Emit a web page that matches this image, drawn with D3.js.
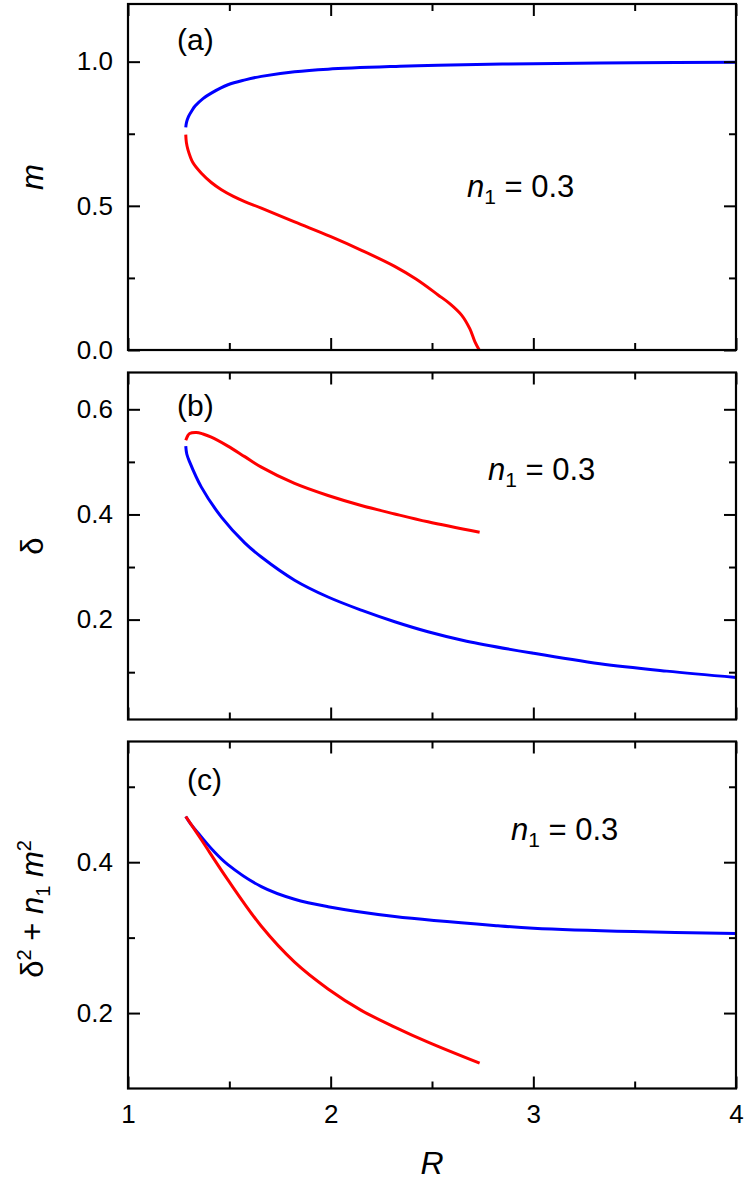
<!DOCTYPE html>
<html><head><meta charset="utf-8">
<script src="https://cdn.jsdelivr.net/npm/d3@7/dist/d3.min.js"></script>
<style>
body{margin:0;background:#fff}
svg text{font-family:"Liberation Sans",Arial,Helvetica,sans-serif;fill:#000}
</style>
</head><body>
<svg id="chart" width="747" height="1185"></svg>
<script>
// ---------- data ----------
const xMajor = [1, 2, 3, 4];
const xMinor = [1.5, 2.5, 3.5];

// panel (a): m vs R
const aBlueR = [1.285, 1.289, 1.299, 1.315, 1.331, 1.37, 1.411, 1.493, 1.578, 1.658, 1.822, 1.987, 2.342, 2.53, 3.0, 3.5, 4.0];
const aBlueM = [0.772, 0.790, 0.810, 0.830, 0.846, 0.872, 0.891, 0.920, 0.937, 0.949, 0.965, 0.974, 0.984, 0.988, 0.993, 0.996, 0.998];
const aRedR = [1.285, 1.288, 1.296, 1.320, 1.362, 1.411, 1.461, 1.520, 1.576, 1.658, 1.822, 1.998, 2.155, 2.316, 2.421, 2.530, 2.589, 2.646, 2.687, 2.712, 2.733];
const aRedM = [0.747, 0.720, 0.694, 0.650, 0.613, 0.581, 0.556, 0.533, 0.515, 0.492, 0.444, 0.394, 0.345, 0.290, 0.246, 0.191, 0.160, 0.121, 0.073, 0.028, 0.0];

// panel (b): delta vs R
const bRedR = [1.285, 1.295, 1.304, 1.337, 1.37, 1.411, 1.493, 1.576, 1.658, 1.822, 1.987, 2.151, 2.316, 2.480, 2.735];
const bRedD = [0.541, 0.550, 0.554, 0.556, 0.553, 0.547, 0.530, 0.510, 0.490, 0.459, 0.436, 0.417, 0.401, 0.386, 0.366];
const bBlueR = [1.285, 1.290, 1.304, 1.362, 1.461, 1.576, 1.658, 1.822, 1.987, 2.151, 2.316, 2.480, 2.671, 3.0, 3.329, 3.658, 4.0];
const bBlueD = [0.530, 0.515, 0.500, 0.452, 0.395, 0.346, 0.319, 0.275, 0.243, 0.218, 0.196, 0.177, 0.159, 0.136, 0.116, 0.102, 0.090];

// panel (c): delta^2 + n1 m^2 vs R
const cBlueR = [1.285, 1.31, 1.362, 1.42, 1.493, 1.658, 1.822, 1.987, 2.316, 2.825, 3.0, 3.493, 4.0];
const cBlueV = [0.4606, 0.4505, 0.4335, 0.4155, 0.3968, 0.3676, 0.3508, 0.341, 0.328, 0.3157, 0.3125, 0.308, 0.3056];
const cRedR = [1.285, 1.362, 1.493, 1.658, 1.822, 1.987, 2.151, 2.316, 2.480, 2.735];
const cRedV = [0.4606, 0.4297, 0.3765, 0.3150, 0.2675, 0.2320, 0.2036, 0.1814, 0.1614, 0.1335];

const aYMajor = [0, 0.5, 1.0], aYMinor = [0.25, 0.75];
const bYMajor = [0.2, 0.4, 0.6], bYMinor = [0.1, 0.3, 0.5];
const cYMajor = [0.2, 0.4], cYMinor = [0.3, 0.5];

const annotation = "0.3";

// ---------- layout ----------
const svg = d3.select("#chart");
const L = 128, Rt = 736;
const x = d3.scaleLinear().domain([1, 4]).range([L, Rt]);

const panels = [
  {top: 4, bottom: 350, dom: [0, 1.2], major: aYMajor, minor: aYMinor, fmt: d3.format(".1f"),
   series: [{R: aBlueR, v: aBlueM, c: "#0000ff"}, {R: aRedR, v: aRedM, c: "#ff0000"}],
   tag: "(a)", tagX: 177, tagY: 50, annX: 467, annY: 197, xLabels: false, ytitle: "m"},
  {top: 372.5, bottom: 719.5, dom: [0.01, 0.67], major: bYMajor, minor: bYMinor, fmt: d3.format(".1f"),
   series: [{R: bBlueR, v: bBlueD, c: "#0000ff"}, {R: bRedR, v: bRedD, c: "#ff0000"}],
   tag: "(b)", tagX: 177, tagY: 416, annX: 488, annY: 480, xLabels: false, ytitle: "delta"},
  {top: 741.5, bottom: 1088.5, dom: [0.1, 0.56], major: cYMajor, minor: cYMinor, fmt: d3.format(".1f"),
   series: [{R: cBlueR, v: cBlueV, c: "#0000ff"}, {R: cRedR, v: cRedV, c: "#ff0000"}],
   tag: "(c)", tagX: 187, tagY: 790, annX: 511, annY: 840, xLabels: true, ytitle: "combo"}
];

function styleAxis(g){
  g.select(".domain").remove();
  g.selectAll(".tick line").attr("stroke", "#000").attr("stroke-width", 2);
  g.selectAll(".tick text").attr("font-size", 26).attr("fill", "#000")
    .attr("font-family", "'Liberation Sans',Arial,sans-serif");
}

panels.forEach(p => {
  const y = d3.scaleLinear().domain(p.dom).range([p.bottom, p.top]);
  const g = svg.append("g");

  // curves
  const line = d3.line().x(d => x(d[0])).y(d => y(d[1])).curve(d3.curveCatmullRom.alpha(0.5));
  p.series.forEach(s => {
    const pts = s.R.map((r, i) => [r, s.v[i]]);
    g.append("path").attr("d", line(pts)).attr("fill", "none")
      .attr("stroke", s.c).attr("stroke-width", 3).attr("stroke-linecap", "butt");
  });

  // axes: left
  g.append("g").attr("transform", `translate(${L},0)`)
    .call(d3.axisLeft(y).tickValues(p.major).tickSize(-12).tickPadding(15).tickFormat(p.fmt)).call(styleAxis);
  g.append("g").attr("transform", `translate(${L},0)`)
    .call(d3.axisLeft(y).tickValues(p.minor).tickSize(-7).tickFormat("")).call(styleAxis);
  // right
  g.append("g").attr("transform", `translate(${Rt},0)`)
    .call(d3.axisRight(y).tickValues(p.major).tickSize(-12).tickFormat("")).call(styleAxis);
  g.append("g").attr("transform", `translate(${Rt},0)`)
    .call(d3.axisRight(y).tickValues(p.minor).tickSize(-7).tickFormat("")).call(styleAxis);
  // bottom
  g.append("g").attr("transform", `translate(0,${p.bottom})`)
    .call(d3.axisBottom(x).tickValues(xMajor).tickSize(-12).tickPadding(16)
      .tickFormat(p.xLabels ? d3.format("d") : "")).call(styleAxis);
  g.append("g").attr("transform", `translate(0,${p.bottom})`)
    .call(d3.axisBottom(x).tickValues(xMinor).tickSize(-7).tickFormat("")).call(styleAxis);
  // top
  g.append("g").attr("transform", `translate(0,${p.top})`)
    .call(d3.axisTop(x).tickValues(xMajor).tickSize(-12).tickFormat("")).call(styleAxis);
  g.append("g").attr("transform", `translate(0,${p.top})`)
    .call(d3.axisTop(x).tickValues(xMinor).tickSize(-7).tickFormat("")).call(styleAxis);

  // frame
  g.append("rect").attr("x", L).attr("y", p.top).attr("width", Rt - L).attr("height", p.bottom - p.top)
    .attr("fill", "none").attr("stroke", "#000").attr("stroke-width", 2.2);

  // panel tag
  g.append("text").attr("x", p.tagX).attr("y", p.tagY).attr("font-size", 30).text(p.tag);

  // annotation n1 = 0.3
  const t = g.append("text").attr("x", p.annX).attr("y", p.annY).attr("font-size", 31);
  t.append("tspan").attr("font-style", "italic").text("n");
  t.append("tspan").attr("font-size", 21).attr("dy", 7).text("1");
  t.append("tspan").attr("dy", -7).text(" = " + annotation);

  // y title
  const cy = (p.top + p.bottom) / 2 - (p.ytitle === "combo" ? 6 : 0);
  const yt = g.append("text").attr("transform", `translate(43,${cy}) rotate(-90)`)
    .attr("text-anchor", "middle").attr("font-size", 31);
  if (p.ytitle === "m") {
    yt.append("tspan").attr("font-style", "italic").text("m");
  } else if (p.ytitle === "delta") {
    yt.text("δ");
  } else {
    yt.append("tspan").text("δ");
    yt.append("tspan").attr("font-size", 20).attr("dy", -12).text("2");
    yt.append("tspan").attr("dy", 12).text(" + ");
    yt.append("tspan").attr("font-style", "italic").text("n");
    yt.append("tspan").attr("font-size", 20).attr("dy", 7).text("1");
    yt.append("tspan").attr("dy", -7).text(" ");
    yt.append("tspan").attr("font-style", "italic").text("m");
    yt.append("tspan").attr("font-size", 20).attr("dy", -12).text("2");
  }
});

// x title
svg.append("text").attr("x", x(2.5)).attr("y", 1174).attr("text-anchor", "middle")
  .attr("font-size", 32).attr("font-style", "italic").text("R");
</script>
</body></html>
